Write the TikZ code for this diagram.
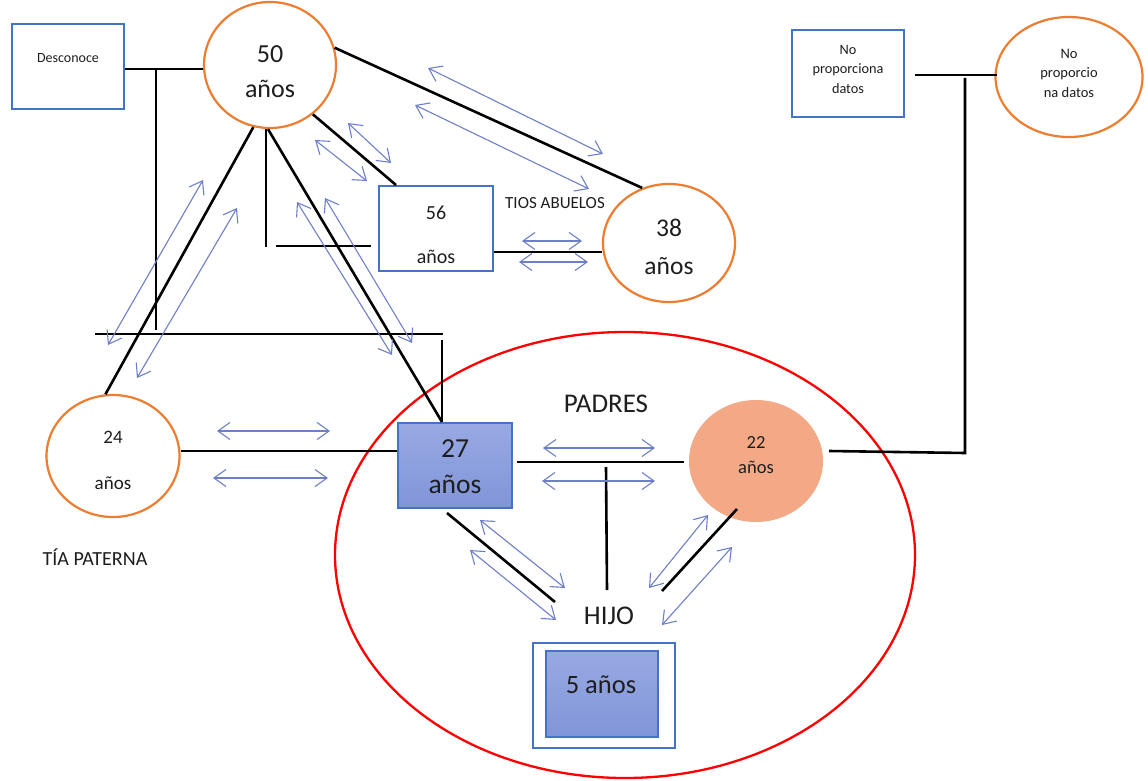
\documentclass[tikz,border=0pt]{standalone}
\usepackage{fontspec}
\setmainfont{Carlito}
\usetikzlibrary{shapes.geometric,arrows.meta,calc}
\definecolor{bbord}{HTML}{4472C4}
\definecolor{orng}{HTML}{ED7D31}
\definecolor{arrc}{HTML}{6E7FC9}
\definecolor{fillA}{HTML}{98AAE3}
\definecolor{fillB}{HTML}{8094D8}
\definecolor{salmon}{HTML}{F3A985}
\definecolor{txt}{HTML}{1E1E1E}
\newcommand{\fsz}[2]{\fontsize{#1}{#2}\selectfont}
\begin{document}
\begin{tikzpicture}[x=1pt,y=-1pt,
 blk/.style={line width=2.6pt, black},
 rel/.style={arrc, line width=1.1pt, {Straight Barb[length=12pt,width=17pt]}-{Straight Barb[length=12pt,width=17pt]}},
 orc/.style={ellipse, draw=orng, line width=2.2pt, inner sep=0pt},
 bbox/.style={rectangle, draw=bbord, line width=2pt, inner sep=0pt},
 lbl/.style={inner sep=0pt, text=txt, align=center}]
\useasboundingbox[fill=white] (0,0) rectangle (1148,781);

% family circle
\node[ellipse, draw=red, line width=2.3pt, minimum width=580pt, minimum height=446pt] (fam) at (625,555) {};

% shapes
\node[bbox, minimum width=112pt, minimum height=85pt] (desc) at (68,66.5) {};
\node[orc, minimum width=132pt, minimum height=126pt] (c50) at (270,65) {};
\node[bbox, minimum width=114pt, minimum height=85pt] (b56) at (436,228.5) {};
\node[orc, minimum width=132pt, minimum height=118pt] (c38) at (669,243) {};
\node[bbox, minimum width=112pt, minimum height=87pt] (npd) at (848,73.5) {};
\node[orc, minimum width=147pt, minimum height=120pt] (npe) at (1069,77) {};
\node[orc, minimum width=133pt, minimum height=122pt] (c24) at (113,456) {};
\node[bbox, minimum width=114pt, minimum height=85pt, top color=fillA, bottom color=fillB] (b27) at (455,465.5) {};
\node[ellipse, fill=salmon, minimum width=134pt, minimum height=122pt, inner sep=0pt] (c22) at (756,461) {};
\node[bbox, minimum width=142pt, minimum height=105pt, fill=white] (b5o) at (604,695.5) {};
\node[bbox, minimum width=112pt, minimum height=86pt, top color=fillA, bottom color=fillB] (b5) at (602,694) {};

% texts
\node[lbl, font=\fsz{14}{16}] (descT) at (68,58) {Desconoce};
\node[lbl, font=\fsz{26}{35}] (c50T) at (270,72) {50\\años};
\node[lbl, font=\fsz{20}{44}] (b56T) at (436,235) {56\\años};
\node[lbl, font=\fsz{25.5}{38}] (c38T) at (669,247) {38\\años};
\node[lbl, font=\fsz{17}{20}] (tios) at (555,203) {TIOS ABUELOS};
\node[lbl, font=\fsz{14.3}{19.5}] (npdT) at (848,69) {No\\proporciona\\datos};
\node[lbl, font=\fsz{14.5}{19.5}] (npeT) at (1069,73) {No\\proporcio\\na datos};
\node[lbl, font=\fsz{19}{46}] (c24T) at (113,460) {24\\años};
\node[lbl, font=\fsz{20}{24}] (tia) at (95,557) {TÍA PATERNA};
\node[lbl, font=\fsz{27.5}{36}] (b27T) at (455,467) {27\\años};
\node[lbl, font=\fsz{18.5}{25}] (c22T) at (756,455) {22\\años};
\node[lbl, font=\fsz{27}{30}] (padres) at (606,404) {PADRES};
\node[lbl, font=\fsz{27}{30}] (hijo) at (609,616) {HIJO};
\node[lbl, font=\fsz{26.5}{30}] (b5T) at (601,685) {5 años};

% coordinates for junctions
\coordinate (j1) at (156,69);
\coordinate (j2) at (156,330);
\coordinate (h1) at (95,334);
\coordinate (h2) at (443,334);
\coordinate (v1) at (442,340);
\coordinate (k1) at (266,247);
\coordinate (k2) at (276,246);
\coordinate (q1) at (0,252);
\coordinate (q2) at (0,451);
\coordinate (m1) at (517,462);
\coordinate (m2) at (684,462);
\coordinate (p1) at (606,467);
\coordinate (p2) at (607,590);
\coordinate (s1) at (447,513);
\coordinate (s2) at (555,602);
\coordinate (s3) at (737,509);
\coordinate (s4) at (662,591);
\coordinate (r1) at (829,451);
\coordinate (r2) at (965,453);
\coordinate (r3) at (965,78);
\coordinate (r4) at (915,75);
\coordinate (r5) at (997,75);

% black connectors
\draw[blk] (desc.east |- j1) -- (c50.west |- j1);
\draw[blk] (j1) -- (j2);
\draw[blk] (h1) -- (h2);
\draw[blk] (v1) -- (v1 |- b27.north);
\draw[blk] (c50.-105) -- (c24.97);
\draw[blk] ([xshift=-2pt]c50.south) -- (v1 |- b27.north);
\draw[blk] (k1 |- c50.south) -- (k1);
\draw[blk] (k2) -- ($(k2 -| b56.west)+(-7,0)$);
\draw[blk] (c50.-49) -- ([xshift=18pt]b56.north west);
\draw[blk] (c50.15) -- (c38.116);
\draw[blk] (b56.east |- q1) -- (c38.west |- q1);
\draw[blk] (c24.east |- q2) -- (b27.west |- q2);
\draw[blk] (m1) -- (m2);
\draw[blk] (p1) -- (p2);
\draw[blk] (s1) -- (s2);
\draw[blk] (s3) -- (s4);
\draw[blk] (r1) -- (r2) -- (r3);
\draw[blk] (r4) -- (r5);

% relation arrows
\coordinate (a1s) at (428,68);  \coordinate (a1e) at (603,154);
\coordinate (a2s) at (415,105); \coordinate (a2e) at (589,189);
\coordinate (a3s) at (348,123); \coordinate (a3e) at (391,163);
\coordinate (a4s) at (315,140); \coordinate (a4e) at (367,181);
\coordinate (a5s) at (522,241); \coordinate (a5e) at (582,241);
\coordinate (a6s) at (519,262); \coordinate (a6e) at (588,262);
\coordinate (a7s) at (203,180); \coordinate (a7e) at (108,345);
\coordinate (a8s) at (237,208); \coordinate (a8e) at (137,378);
\coordinate (a9s) at (297,202); \coordinate (a9e) at (392,355);
\coordinate (a10s) at (325,198); \coordinate (a10e) at (412,343);
\coordinate (a11s) at (217,431); \coordinate (a11e) at (330,431);
\coordinate (a12s) at (213,478); \coordinate (a12e) at (328,478);
\coordinate (a13s) at (543,448); \coordinate (a13e) at (655,448);
\coordinate (a14s) at (542,481); \coordinate (a14e) at (655,481);
\coordinate (a15s) at (480,520); \coordinate (a15e) at (565,588);
\coordinate (a16s) at (470,550); \coordinate (a16e) at (556,620);
\coordinate (a17s) at (708,515); \coordinate (a17e) at (649,588);
\coordinate (a18s) at (732,547); \coordinate (a18e) at (662,625);
\foreach \i in {1,...,18}{\draw[rel] (a\i s) -- (a\i e);}
\end{tikzpicture}
\end{document}
